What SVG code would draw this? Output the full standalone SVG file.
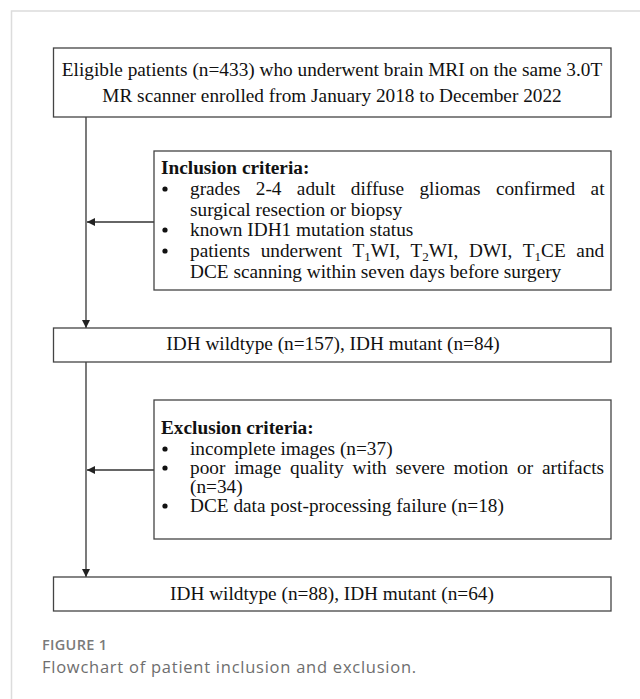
<svg xmlns="http://www.w3.org/2000/svg" width="640" height="699" viewBox="0 0 640 699">
<style>
.box{fill:#fff;stroke:#444;stroke-width:1.3}
.t{font-family:"Liberation Serif","Times New Roman",serif;font-size:19.3px;fill:#111}
.b{font-weight:bold}
.s{font-size:13px}
.c{fill:none;stroke:#333;stroke-width:1.3}
.dot{fill:#111}
.cap1{font-family:"Open Sans","Noto Sans",sans-serif;font-size:14.5px;font-weight:600;letter-spacing:0.3px;fill:#7a7a7a}
.cap2{font-family:"Open Sans","Noto Sans",sans-serif;font-size:16.5px;letter-spacing:0.75px;fill:#6e6e6e}
</style>
<defs>
<marker id="ah" viewBox="0 0 8 8" refX="8" refY="4" markerWidth="8" markerHeight="8" markerUnits="userSpaceOnUse" orient="auto">
<path d="M0,0 L8,4 L0,8 z" fill="#222"/>
</marker>
</defs>
<rect width="640" height="699" fill="#fff"/>
<path d="M11.5,699 V11 H640" fill="none" stroke="#dcdcdc" stroke-width="1.5"/>
<g id="connectors">
<path class="c" d="M86,117 V328" marker-end="url(#ah)"/>
<path class="c" d="M154,222 H87" marker-end="url(#ah)"/>
<path class="c" d="M86,362 V577" marker-end="url(#ah)"/>
<path class="c" d="M154,470 H87" marker-end="url(#ah)"/>
</g>
<g id="start">
<rect class="box" x="53.5" y="48" width="557.5" height="69"/>
<text class="t" x="332" y="76" text-anchor="middle">Eligible patients (n=433) who underwent brain MRI on the same 3.0T</text>
<text class="t" x="332" y="102" text-anchor="middle">MR scanner enrolled from January 2018 to December 2022</text>
</g>
<g id="inclusion">
<rect class="box" x="154" y="151" width="457" height="139"/>
<text class="t b" x="161" y="174">Inclusion criteria:</text>
<circle class="dot" cx="165" cy="189" r="2.6"/>
<circle class="dot" cx="165" cy="230" r="2.6"/>
<circle class="dot" cx="165" cy="251" r="2.6"/>
<text class="t" x="190" y="195" word-spacing="10.6">grades 2-4 adult diffuse gliomas confirmed at</text>
<text class="t" x="190" y="216">surgical resection or biopsy</text>
<text class="t" x="190" y="236">known IDH1 mutation status</text>
<text class="t" x="190" y="257" word-spacing="5.9">patients underwent T<tspan class="s" dy="3.5">1</tspan><tspan dy="-3.5">WI, T</tspan><tspan class="s" dy="3.5">2</tspan><tspan dy="-3.5">WI, DWI, T</tspan><tspan class="s" dy="3.5">1</tspan><tspan dy="-3.5">CE and</tspan></text>
<text class="t" x="190" y="278">DCE scanning within seven days before surgery</text>
</g>
<g id="idh1">
<rect class="box" x="53.5" y="328" width="557.5" height="34"/>
<text class="t" x="333" y="350" text-anchor="middle">IDH wildtype (n=157), IDH mutant (n=84)</text>
</g>
<g id="exclusion">
<rect class="box" x="154" y="400" width="457" height="139"/>
<text class="t b" x="161" y="434">Exclusion criteria:</text>
<circle class="dot" cx="165" cy="449" r="2.6"/>
<circle class="dot" cx="165" cy="468" r="2.6"/>
<circle class="dot" cx="165" cy="506" r="2.6"/>
<text class="t" x="190" y="455">incomplete images (n=37)</text>
<text class="t" x="190" y="474" word-spacing="4">poor image quality with severe motion or artifacts</text>
<text class="t" x="190" y="493">(n=34)</text>
<text class="t" x="190" y="512">DCE data post-processing failure (n=18)</text>
</g>
<g id="idh2">
<rect class="box" x="53.5" y="577" width="557.5" height="34"/>
<text class="t" x="332" y="600" text-anchor="middle">IDH wildtype (n=88), IDH mutant (n=64)</text>
</g>
<text class="cap1" x="42" y="650">FIGURE 1</text>
<text class="cap2" x="42" y="673">Flowchart of patient inclusion and exclusion.</text>
</svg>
